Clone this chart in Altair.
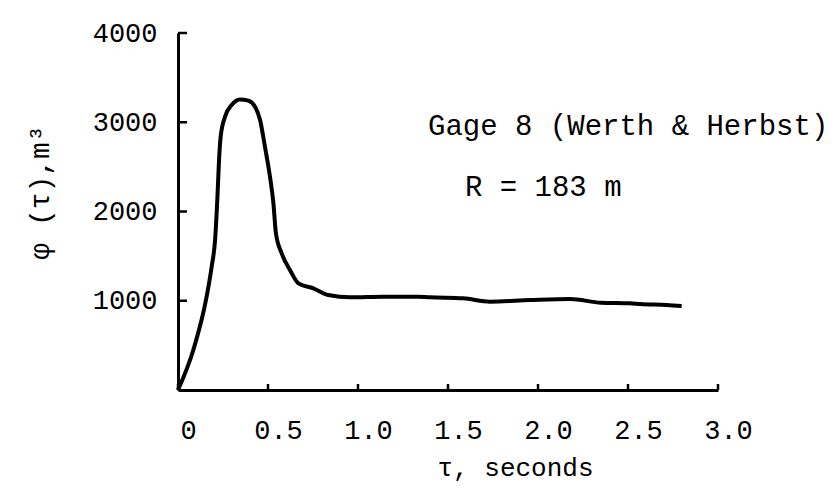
import altair as alt
import pandas as pd

# curve
tau = [0.0, 0.085, 0.159, 0.187, 0.206, 0.22, 0.228, 0.237, 0.261, 0.298, 0.344,
       0.391, 0.428, 0.456, 0.483, 0.511, 0.53, 0.544, 0.576, 0.622, 0.669, 0.752,
       0.835, 0.956, 1.14, 1.326, 1.4, 1.585, 1.733, 1.956, 2.178, 2.35, 2.511,
       2.567, 2.715, 2.798]
phi = [0, 448, 1046, 1382, 1681, 2204, 2577, 2838, 3062, 3193, 3256,
       3242, 3174, 3025, 2726, 2390, 2092, 1756, 1531, 1345, 1195, 1139,
       1064, 1038, 1046, 1046, 1038, 1027, 990, 1008, 1020, 978, 971,
       963, 952, 941]

x_ticks = [0.0, 0.5, 1.0, 1.5, 2.0, 2.5, 3.0]
y_ticks = [1000, 2000, 3000, 4000]
annotations = ["Gage 8 (Werth & Herbst)", "R = 183 m"]
ann_x = [1.389, 1.594]
ann_y = [2857, 2174]

FONT = "Liberation Mono"

curve = pd.DataFrame({"tau": tau, "phi": phi})
xt = pd.DataFrame({"v": x_ticks})
yt = pd.DataFrame({"v": y_ticks})

xscale = alt.Scale(domain=[0, 3.0], nice=False, zero=False)
yscale = alt.Scale(domain=[0, 4000], nice=False)

x_axis = alt.Axis(
    values=x_ticks,
    labelExpr="datum.value == 0 ? '0' : format(datum.value, '.1f')",
    tickSize=0, grid=False, domainColor="black", domainWidth=3,
    labelFont=FONT, labelFontSize=27, labelColor="black", labelPadding=27,
    labelOffset=10, labelFlush=False, labelOverlap=False,
    title="τ, seconds", titleFont=FONT, titleFontSize=26, titleFontWeight="normal",
    titleColor="black", titleX=337, titleY=85, titleAlign="center",
    titleBaseline="alphabetic", titleAnchor="start",
)
y_axis = alt.Axis(
    values=y_ticks, format="d",
    tickSize=0, grid=False, domainColor="black", domainWidth=3,
    labelFont=FONT, labelFontSize=27, labelColor="black", labelPadding=21,
    labelFlush=False, labelOverlap=False,
    title="φ (τ),m³", titleFont=FONT, titleFontSize=28, titleFontWeight="normal",
    titleColor="black", titleX=-138, titleY=159, titleAngle=270,
    titleAlign="center", titleBaseline="middle", titleAnchor="start",
)

line = alt.Chart(curve).mark_line(
    color="black", strokeWidth=4, interpolate="monotone"
).encode(
    x=alt.X("tau:Q", scale=xscale, axis=x_axis),
    y=alt.Y("phi:Q", scale=yscale, axis=y_axis),
)

xtick_marks = alt.Chart(xt).mark_rule(color="black", strokeWidth=2.5, y2Offset=-6).encode(
    x=alt.X("v:Q", scale=xscale),
    y=alt.YDatum(0),
    y2=alt.Y2Datum(0),
)

ytick_marks = alt.Chart(yt).mark_rule(color="black", strokeWidth=2.5, x2Offset=9).encode(
    y=alt.Y("v:Q", scale=yscale),
    x=alt.XDatum(0),
    x2=alt.X2Datum(0),
)

ann_df = pd.DataFrame({"label": annotations, "ax": ann_x, "ay": ann_y})
ann = alt.Chart(ann_df).mark_text(
    font=FONT, fontSize=29, color="black", align="left", baseline="alphabetic"
).encode(
    x=alt.X("ax:Q", scale=xscale),
    y=alt.Y("ay:Q", scale=yscale),
    text="label:N",
)

chart = alt.layer(line, xtick_marks, ytick_marks, ann).properties(
    width=540, height=357,
    autosize=alt.AutoSizeParams(type="none"),
    padding={"left": 178, "top": 33, "right": 120, "bottom": 113},
    background="white",
).configure_view(strokeWidth=0)

chart.save("out.html", embed_options={"renderer": "svg", "actions": False})
